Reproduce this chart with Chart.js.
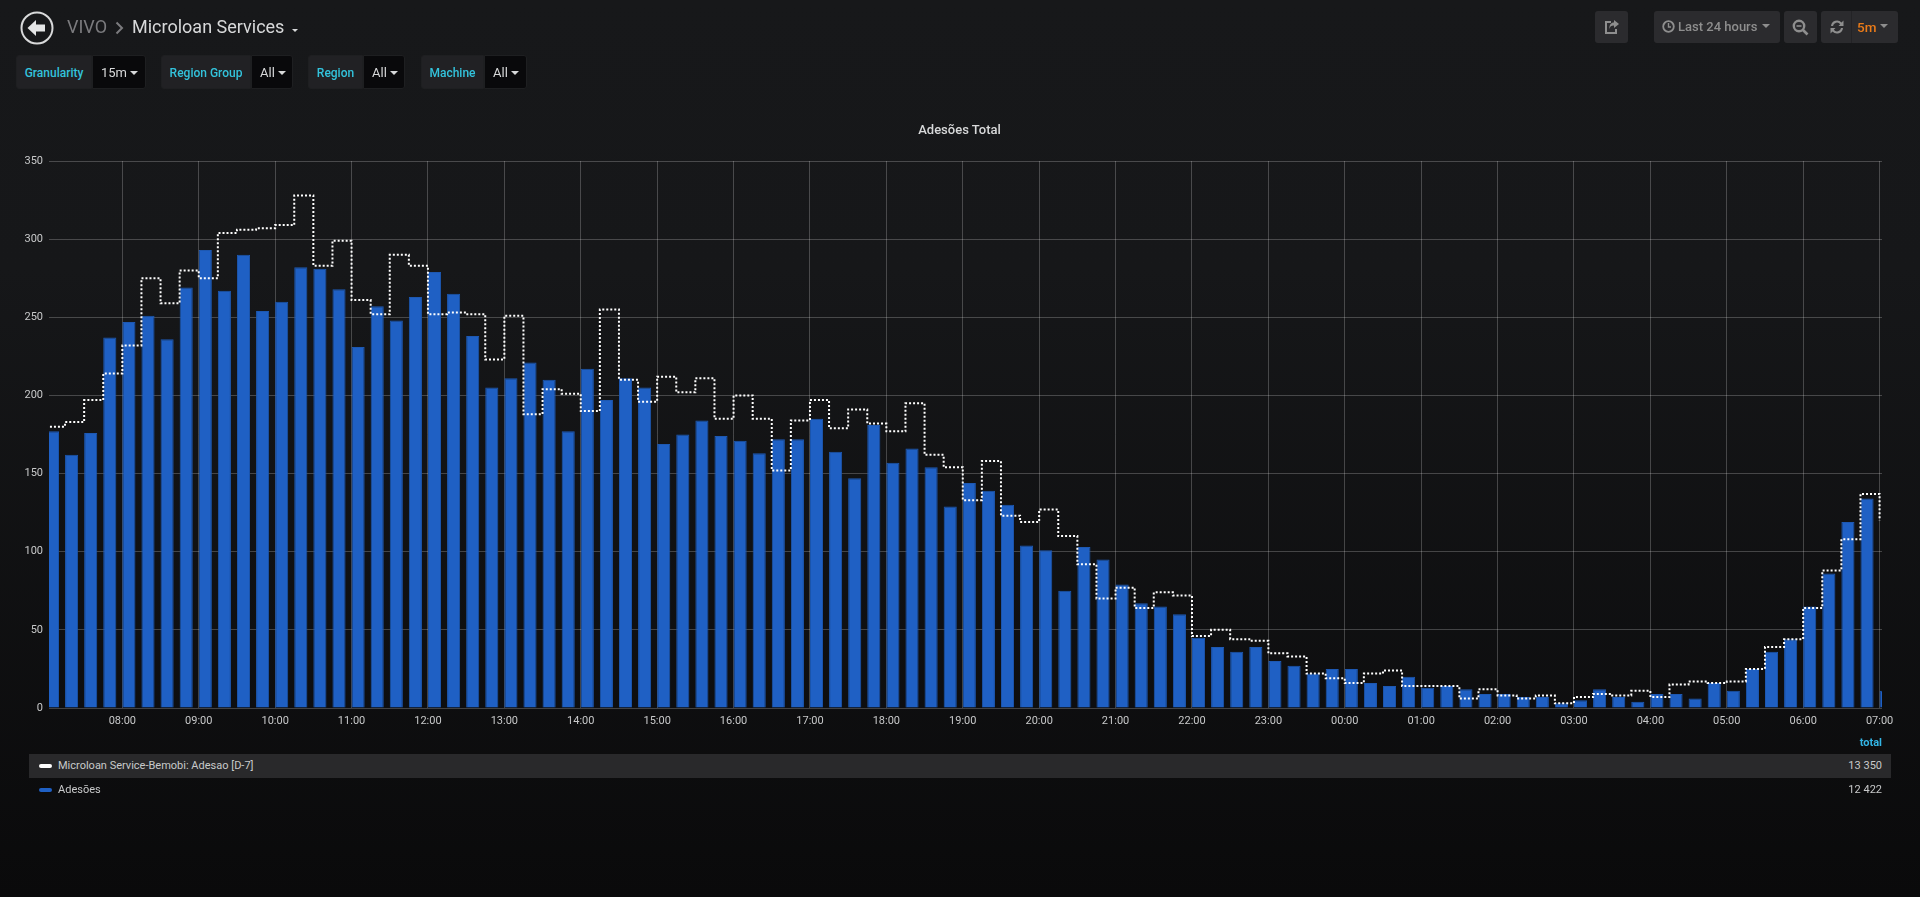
<!DOCTYPE html>
<html>
<head>
<meta charset="utf-8">
<script src="https://cdn.jsdelivr.net/npm/chart.js@4"></script>
<style>
html,body{margin:0;padding:0;width:1920px;height:897px;overflow:hidden;background:linear-gradient(#17181a,#161719 30%,#0a0a0b 100%);font-family:Roboto,sans-serif;}
canvas{position:absolute;left:0;top:0;}
.a{position:absolute;white-space:nowrap;}
.lab{position:absolute;top:55px;height:34px;box-sizing:border-box;background:#212124;border:1px solid #1e1f21;border-radius:3px 0 0 3px;color:#33c3dc;font-size:12px;font-weight:500;line-height:34px;text-align:center;}
.val{position:absolute;top:55px;height:34px;box-sizing:border-box;background:#09090b;border:1px solid #1e1f21;border-radius:0 3px 3px 0;color:#d8d9da;font-size:13px;line-height:34px;padding-left:8px;}
.caret{display:inline-block;width:0;height:0;border-left:4px solid transparent;border-right:4px solid transparent;border-top:4px solid currentColor;vertical-align:2px;margin-left:3px;}
.btn{position:absolute;top:11px;height:32px;background:#2b2b2e;border-radius:3px;color:#8e8e8e;font-size:13px;font-weight:500;line-height:32px;}
.row{position:absolute;left:29px;width:1862px;height:24px;line-height:24px;color:#c8c9ca;font-size:11px;}
.sw{position:absolute;left:10px;top:10px;width:13px;height:4px;border-radius:2px;}
</style>
</head>
<body>
<canvas id="c" width="1920" height="897"></canvas>

<svg class="a" style="left:19px;top:10px" width="36" height="36" viewBox="0 0 36 36"><circle cx="18" cy="18" r="15.5" fill="none" stroke="#d8d9da" stroke-width="2"/><path d="M8.5 18 L17 10 V14.5 H26 V21.5 H17 V26 Z" fill="#e4e5e6"/></svg>
<div class="a" style="left:67px;top:16px;font-size:18px;line-height:22px;color:#7b7b7e">VIVO</div>
<svg class="a" style="left:115px;top:21px" width="9" height="14" viewBox="0 0 9 14"><path d="M1.5 1.5 L7 7 L1.5 12.5" fill="none" stroke="#7b7b7e" stroke-width="2"/></svg>
<div class="a" style="left:132px;top:16px;font-size:18px;line-height:22px;color:#d8d9da">Microloan Services</div>
<div class="a" style="left:292px;top:29px;width:0;height:0;border-left:3.5px solid transparent;border-right:3.5px solid transparent;border-top:3.5px solid #d8d9da"></div>

<div class="lab" style="left:16px;width:76px">Granularity</div><div class="val" style="left:92px;width:54px">15m<span class="caret"></span></div>
<div class="lab" style="left:161px;width:90px">Region Group</div><div class="val" style="left:251px;width:42px">All<span class="caret"></span></div>
<div class="lab" style="left:308px;width:55px">Region</div><div class="val" style="left:363px;width:42px">All<span class="caret"></span></div>
<div class="lab" style="left:421px;width:63px">Machine</div><div class="val" style="left:484px;width:43px">All<span class="caret"></span></div>

<div class="btn" style="left:1595px;width:33px"><svg style="position:absolute;left:9px;top:8px" width="16" height="16" viewBox="0 0 16 16"><path d="M10 1 L15 5 L10 9 V6.5 C7 6.5 6 7.5 5.5 10 C5 6 7 3.5 10 3.5 Z" fill="#8e8e8e"/><path d="M7 3 H2 V14 H12 V10" fill="none" stroke="#8e8e8e" stroke-width="2"/></svg></div>
<div class="btn" style="left:1654px;width:126px"><svg style="position:absolute;left:8px;top:9px" width="13" height="13" viewBox="0 0 13 13"><circle cx="6.5" cy="6.5" r="5.3" fill="none" stroke="#8e8e8e" stroke-width="1.8"/><path d="M6.5 3 V7 H9" fill="none" stroke="#8e8e8e" stroke-width="1.4"/></svg><span style="position:absolute;left:24px">Last 24 hours</span><span class="caret" style="position:absolute;left:108px;top:13px;margin:0"></span></div>
<div class="btn" style="left:1784px;width:33px"><svg style="position:absolute;left:8px;top:8px" width="17" height="17" viewBox="0 0 17 17"><circle cx="7" cy="7" r="5.2" fill="none" stroke="#8e8e8e" stroke-width="2.4"/><path d="M4.5 7 H9.5" stroke="#8e8e8e" stroke-width="1.6"/><path d="M11 11 L15.5 15.5" stroke="#8e8e8e" stroke-width="2.6"/></svg></div>
<div class="btn" style="left:1821px;width:77px"><svg style="position:absolute;left:8px;top:8px" width="16" height="16" viewBox="0 0 16 16"><path d="M2 7 A6 6 0 0 1 12.5 3.5 L14.5 1.5 V7 H9.5 L11.2 5.2 A4 4 0 0 0 4 7 Z" fill="#8e8e8e"/><path d="M14 9 A6 6 0 0 1 3.5 12.5 L1.5 14.5 V9 H6.5 L4.8 10.8 A4 4 0 0 0 12 9 Z" fill="#8e8e8e"/></svg><span style="position:absolute;left:30px;width:1px;top:0;height:32px;background:#232326"></span><span style="position:absolute;left:36px;color:#eb7b18;font-size:13.5px">5m</span><span class="caret" style="position:absolute;left:59px;top:13px;margin:0"></span></div>

<div class="a" style="left:0;width:1919px;top:122px;text-align:center;font-size:13px;font-weight:500;line-height:15px;color:#d8d9da">Adesões Total</div>

<div class="a" style="right:38px;top:736px;font-size:11px;font-weight:700;line-height:14px;color:#33b5e5">total</div>
<div class="row" style="top:754px;background:#29292b"><span class="sw" style="background:#fff"></span><span style="position:absolute;left:29px">Microloan Service-Bemobi: Adesao [D-7]</span><span style="position:absolute;right:9px">13 350</span></div>
<div class="row" style="top:778px"><span class="sw" style="background:#1f60c4"></span><span style="position:absolute;left:29px">Adesões</span><span style="position:absolute;right:9px">12 422</span></div>

<script>
const hourLabels = ["08:00","09:00","10:00","11:00","12:00","13:00","14:00","15:00","16:00","17:00","18:00","19:00","20:00","21:00","22:00","23:00","00:00","01:00","02:00","03:00","04:00","05:00","06:00","07:00"];
const yTicks = [0,50,100,150,200,250,300,350];
const intervalMinutes = 15;
const adesoes = [177,162,176,237,247,251,236,269,293,267,290,254,260,282,281,268,231,257,248,263,279,265,238,205,211,221,210,177,217,197,211,205,169,175,184,174,171,163,172,172,185,164,147,181,157,166,154,129,144,139,130,104,101,75,103,95,79,67,65,60,45,39,36,39,30,27,22,25,25,16,14,20,13,14,12,9,9,7,7,3,5,12,7,4,9,9,6,16,11,25,36,44,65,86,119,134,11];
const adesaoD7 = [180,183,197,214,232,275,259,280,275,304,306,307,309,328,283,299,261,252,290,283,252,253,252,223,251,188,204,201,190,255,210,196,212,202,211,185,200,185,152,184,197,179,191,182,177,195,162,154,133,158,123,119,127,110,92,70,77,64,74,72,46,50,44,43,35,33,22,19,16,22,24,14,14,14,6,12,8,6,8,3,7,9,8,11,7,15,17,16,17,25,39,44,64,88,108,137,120];

const barShare = 0.686;
const barShift = intervalMinutes * barShare / 2;

new Chart(document.getElementById('c'), {
  type: 'bar',
  data: {
    datasets: [
      {
        type: 'line',
        label: 'Microloan Service-Bemobi: Adesao [D-7]',
        data: adesaoD7.map((v, i) => ({x: i * intervalMinutes, y: v})),
        borderColor: '#ffffff',
        borderWidth: 2,
        borderDash: [2, 2],
        stepped: 'before',
        pointRadius: 0,
        fill: false,
        order: 0
      },
      {
        type: 'bar',
        label: 'Adesões',
        data: adesoes.map((v, i) => ({x: i * intervalMinutes + barShift, y: v})),
        backgroundColor: '#1f60c4',
        borderColor: '#1d58b2',
        borderWidth: 1,
        categoryPercentage: 1,
        barPercentage: barShare,
        order: 1
      }
    ]
  },
  options: {
    responsive: false,
    animation: false,
    devicePixelRatio: 1,
    layout: {padding: {left: 0, right: 38, top: 161, bottom: 159}},
    plugins: {
      legend: {display: false},
      tooltip: {enabled: false},
      title: {display: false}
    },
    scales: {
      x: {
        type: 'linear',
        offset: false,
        min: 2.4,
        max: 1441.9,
        afterBuildTicks: s => { s.ticks = hourLabels.map((_, i) => ({value: 60 + i * 60})); },
        afterFit: s => { s.height = 30; s.paddingLeft = 0; s.paddingRight = 0; },
        grid: {offset: false, color: 'rgba(255,255,255,0.22)', lineWidth: 1, drawTicks: false},
        border: {display: false},
        ticks: {
          color: '#c8c9ca',
          font: {family: 'Roboto', size: 11},
          padding: 7,
          autoSkip: false,
          maxRotation: 0,
          callback: (v) => hourLabels[Math.round(v / 60) - 1]
        }
      },
      y: {
        min: 0,
        max: 350,
        afterBuildTicks: s => { s.ticks = yTicks.map(v => ({value: v})); },
        afterFit: s => { s.width = 49; s.paddingTop = 0; s.paddingBottom = 0; },
        grid: {color: 'rgba(255,255,255,0.22)', lineWidth: 1, drawTicks: false},
        border: {display: false},
        ticks: {
          color: '#c8c9ca',
          font: {family: 'Roboto', size: 11},
          padding: 6
        }
      }
    }
  }
});
</script>
</body>
</html>
